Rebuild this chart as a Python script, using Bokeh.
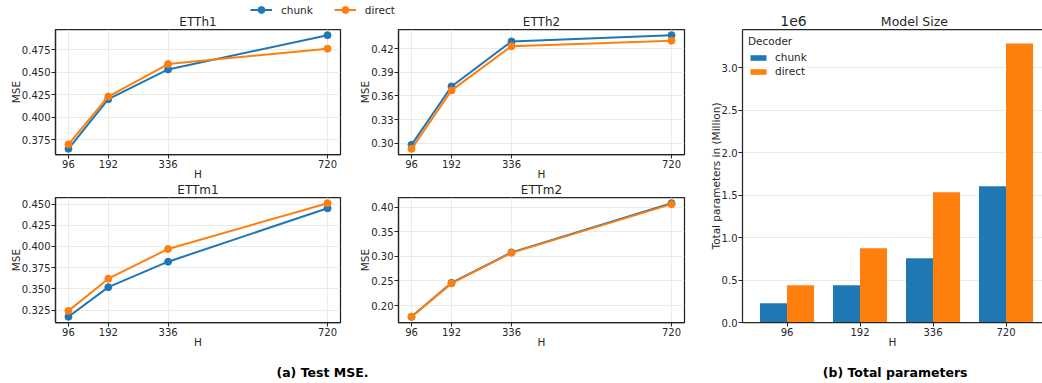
import numpy as np
from bokeh.plotting import figure
from bokeh.models import (Range1d, FixedTicker, NumeralTickFormatter, Legend, LegendItem,
                          Label, LinearAxis, CustomJSTickFormatter)
from bokeh.layouts import row, column
from bokeh.embed import file_html
from bokeh.resources import INLINE

# ---------------- data ----------------
H = [96, 192, 336, 720]
H_labels = ["96", "192", "336", "720"]
series_names = ["chunk", "direct"]

etth1_chunk = [0.365, 0.420, 0.453, 0.491]
etth1_direct = [0.370, 0.423, 0.459, 0.476]
etth2_chunk = [0.298, 0.372, 0.429, 0.437]
etth2_direct = [0.293, 0.367, 0.423, 0.430]
ettm1_chunk = [0.317, 0.352, 0.382, 0.445]
ettm1_direct = [0.324, 0.362, 0.397, 0.451]
ettm2_chunk = [0.177, 0.246, 0.308, 0.408]
ettm2_direct = [0.177, 0.245, 0.307, 0.406]

etth1_ticks = [0.375, 0.400, 0.425, 0.450, 0.475]
etth2_ticks = [0.30, 0.33, 0.36, 0.39, 0.42]
ettm1_ticks = [0.325, 0.350, 0.375, 0.400, 0.425, 0.450]
ettm2_ticks = [0.20, 0.25, 0.30, 0.35, 0.40]

params_chunk = [0.227e6, 0.439e6, 0.756e6, 1.604e6]
params_direct = [0.439e6, 0.874e6, 1.533e6, 3.286e6]
params_ticks = [0, 0.5e6, 1.0e6, 1.5e6, 2.0e6, 2.5e6, 3.0e6]

panel_titles = ["ETTh1", "ETTh2", "ETTm1", "ETTm2"]

# ---------------- style ----------------
FONT = "DejaVu Sans"
TEXT = "#262626"
BLUE = "#1f77b4"
ORANGE = "#ff7f0e"
GRID = "#e6e6e6"


def style_axes(p):
    for ax in list(p.xaxis) + list(p.yaxis):
        ax.axis_line_color = TEXT
        ax.axis_line_width = 1.25
        ax.major_tick_line_color = TEXT
        ax.major_tick_line_width = 1
        ax.major_tick_in = 0
        ax.major_tick_out = 4
        ax.minor_tick_line_color = None
        ax.major_label_text_font = FONT
        ax.major_label_text_font_size = "10px"
        ax.major_label_text_color = TEXT
        ax.axis_label_text_font = FONT
        ax.axis_label_text_font_size = "10.5px"
        ax.axis_label_text_font_style = "normal"
        ax.axis_label_text_color = TEXT
        ax.major_label_standoff = 1
        ax.axis_label_standoff = -3


def pad_range(a, b):
    lo = min(min(a), min(b))
    hi = max(max(a), max(b))
    m = 0.05 * (hi - lo)
    return lo - m, hi + m


def text_strip(width, height):
    s = figure(width=width, height=height, output_backend="svg", toolbar_location=None,
               x_range=Range1d(0, width), y_range=Range1d(0, height), min_border=0,
               x_axis_location=None, y_axis_location=None, outline_line_color=None)
    s.grid.visible = False
    return s


def add_text(s, x, y, text, size="12px", align="center", style="normal", color=TEXT):
    s.add_layout(Label(x=x, y=y, text=text, text_align=align, text_baseline="middle",
                       text_font=FONT, text_font_size=size, text_font_style=style,
                       text_color=color))


def line_panel(chunk, direct, yticks, fmt, width, height, bl, br, bb):
    xm = 0.05 * (max(H) - min(H))
    x0, x1 = min(H) - xm, max(H) + xm
    lo, hi = pad_range(chunk, direct)
    p = figure(width=width, height=height, output_backend="svg", toolbar_location=None,
               x_range=Range1d(x0, x1), y_range=Range1d(lo, hi),
               min_border_left=bl, min_border_right=br, min_border_top=1, min_border_bottom=bb,
               background_fill_color="white", border_fill_color="white")
    p.outline_line_color = TEXT
    p.outline_line_width = 1.25
    p.outline_line_alpha = 1
    p.xaxis.ticker = FixedTicker(ticks=H)
    p.yaxis.ticker = FixedTicker(ticks=yticks)
    p.yaxis.formatter = NumeralTickFormatter(format=fmt)
    p.xaxis.axis_label = "H"
    p.yaxis.axis_label = "MSE"
    style_axes(p)
    p.grid.grid_line_color = GRID
    p.grid.grid_line_width = 0.8
    for vals, col in ((chunk, BLUE), (direct, ORANGE)):
        p.line(H, vals, line_color=col, line_width=2)
        p.scatter(H, vals, size=7, fill_color=col, line_color=col)
    return p


p1 = line_panel(etth1_chunk, etth1_direct, etth1_ticks, "0.000", 350, 154, 55, 10, 28)
p2 = line_panel(etth2_chunk, etth2_direct, etth2_ticks, "0.00", 350, 154, 48, 16, 28)
p3 = line_panel(ettm1_chunk, ettm1_direct, ettm1_ticks, "0.000", 350, 155, 55, 10, 29)
p4 = line_panel(ettm2_chunk, ettm2_direct, ettm2_ticks, "0.00", 350, 155, 48, 16, 29)

# ---------------- top strip: shared legend + first-row titles ----------------
top = text_strip(700, 28)
top.extra_x_ranges = {"hidden": Range1d(2000, 3000)}
items = []
for name, vals, col in zip(series_names, (etth1_chunk, etth1_direct), (BLUE, ORANGE)):
    # these renderers use a range that keeps them off-screen: only legend glyphs show
    rl = top.line(H, vals, line_color=col, line_width=2, x_range_name="hidden")
    rs = top.scatter(H, vals, size=7, fill_color=col, line_color=col, x_range_name="hidden")
    items.append(LegendItem(label=name, renderers=[rl, rs]))
leg = Legend(items=items, orientation="horizontal", location=(250, 10),
             glyph_width=22, glyph_height=17, label_height=17, label_standoff=9, spacing=21,
             padding=0, margin=0, border_line_color=None, background_fill_alpha=0,
             label_text_font=FONT, label_text_font_size="10.5px", label_text_color=TEXT)
top.add_layout(leg)
add_text(top, 197.5, 7, panel_titles[0])
add_text(top, 541, 7, panel_titles[1])

# ---------------- middle strip: second-row titles ----------------
mid = text_strip(700, 14)
add_text(mid, 197.5, 7, panel_titles[2])
add_text(mid, 541, 7, panel_titles[3])

# ---------------- captions ----------------
capA = text_strip(700, 32)
add_text(capA, 322, 11, "(a) Test MSE.", size="12.5px", style="bold", color="black")
capB = text_strip(342, 32)
add_text(capB, 174, 11, "(b) Total parameters", size="12.5px", style="bold", color="black")

# ---------------- bar chart ----------------
head = text_strip(342, 28)
add_text(head, 43, 8, "1e6", size="14px", align="left")
add_text(head, 196, 7, "Model Size", size="12.5px")

xs = np.arange(len(H_labels))
bw = 0.37
ytop = max(params_direct) * 1.05
p5 = figure(width=342, height=323, output_backend="svg", toolbar_location=None,
            x_range=Range1d(-0.61, 3.50), y_range=Range1d(0, ytop),
            min_border_left=42, min_border_right=0, min_border_top=1, min_border_bottom=29,
            background_fill_color="white", border_fill_color="white")
p5.outline_line_color = None
rb1 = p5.vbar(x=xs - bw / 2, top=params_chunk, width=bw, fill_color=BLUE, line_color=None)
rb2 = p5.vbar(x=xs + bw / 2, top=params_direct, width=bw, fill_color=ORANGE, line_color=None)
p5.xaxis.ticker = FixedTicker(ticks=list(xs))
p5.xaxis.major_label_overrides = {int(i): lab for i, lab in zip(xs, H_labels)}
p5.yaxis.ticker = FixedTicker(ticks=params_ticks)
p5.yaxis.formatter = CustomJSTickFormatter(code="return (tick/1e6).toFixed(1)")
p5.xaxis.axis_label = "H"
p5.yaxis.axis_label = "Total parameters in (Million)"
style_axes(p5)
p5.xgrid.visible = False
p5.ygrid.grid_line_color = GRID
p5.ygrid.grid_line_width = 0.8
top_axis = LinearAxis(ticker=FixedTicker(ticks=[]), axis_line_color=TEXT, axis_line_width=1.25,
                      major_tick_out=0, major_tick_in=0, minor_tick_out=0, minor_tick_in=0,
                      major_label_text_font_size="0px")
p5.add_layout(top_axis, "above")
bleg = Legend(items=[LegendItem(label=series_names[0], renderers=[rb1]),
                     LegendItem(label=series_names[1], renderers=[rb2])],
              title="Decoder", location="top_left", margin=6, padding=3,
              glyph_width=20, glyph_height=7, label_height=14, label_standoff=7, spacing=0,
              title_standoff=3, border_line_color=None, background_fill_color="white",
              background_fill_alpha=0.8,
              label_text_font=FONT, label_text_font_size="10.5px", label_text_color=TEXT,
              title_text_font=FONT, title_text_font_size="10.5px", title_text_font_style="normal",
              title_text_color=TEXT)
p5.add_layout(bleg)

left = column(top, row(p1, p2), mid, row(p3, p4), capA)
right = column(head, p5, capB)
layout = row(left, right)

open("out.html", "w").write(file_html(layout, INLINE))
